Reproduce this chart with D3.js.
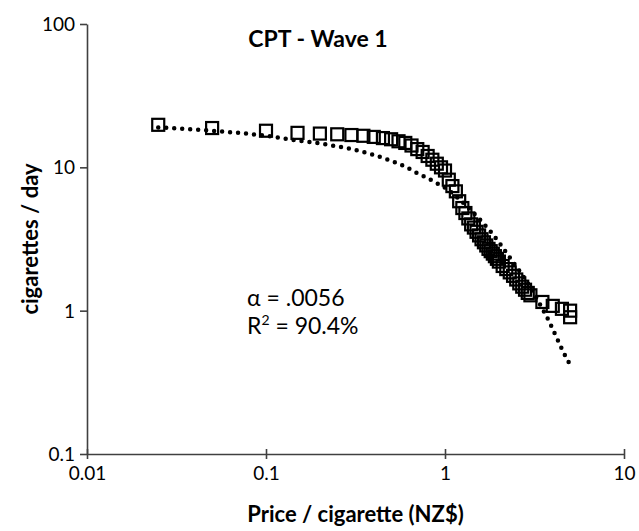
<!DOCTYPE html>
<html>
<head>
<meta charset="utf-8">
<script src="https://cdn.jsdelivr.net/npm/d3@7"></script>
<style>
  body { margin: 0; background: #fff; }
  text { font-family: Lato, "Open Sans", sans-serif; fill: #000; }
  .tick-label { font-size: 19px; }
  .axis-title { font-size: 22px; font-weight: bold; }
</style>
</head>
<body>
<div id="chart"></div>
<script>
// CPT price points (NZ$ per cigarette) and consumption (cigarettes / day)
var prices = [0.025, 0.05, 0.1, 0.15, 0.2, 0.25, 0.3, 0.35, 0.4, 0.45,
    0.5, 0.55, 0.6, 0.65, 0.7, 0.75, 0.8, 0.85, 0.9, 0.95,
    1.0, 1.05, 1.1, 1.15, 1.2, 1.25, 1.3, 1.35, 1.4, 1.45,
    1.5, 1.55, 1.6, 1.65, 1.7, 1.75, 1.8, 1.85, 1.9, 1.95,
    2.0, 2.1, 2.2, 2.3, 2.4, 2.5, 2.6, 2.7, 2.8, 2.9,
    3.0, 3.5, 4.0, 4.5, 5.0, 5.0];
var consumption = [19.8, 18.8, 18.0, 17.4, 17.2, 17.0, 16.8, 16.6, 16.3, 16.0,
    15.7, 15.2, 14.8, 14.2, 13.4, 12.8, 12.0, 11.3, 10.6, 10.0,
    9.5, 8.2, 7.4, 6.8, 5.8, 5.2, 4.8, 4.4, 4.0, 3.8,
    3.55, 3.35, 3.15, 3.0, 2.85, 2.7, 2.6, 2.5, 2.4, 2.3,
    2.2, 2.05, 1.95, 1.85, 1.75, 1.65, 1.55, 1.47, 1.4, 1.33,
    1.28, 1.15, 1.08, 1.03, 1.0, 0.9];

// fitted exponential demand curve
var fitPrices = [0.025, 0.05, 0.1, 0.15, 0.2, 0.25, 0.3, 0.4, 0.5, 0.6,
    0.7, 0.8, 0.9, 1.0, 1.1, 1.2, 1.4, 1.6, 1.8, 2.0,
    2.3, 2.6, 2.9, 3.2, 3.5, 3.8, 4.2, 4.6, 5.0];
var fitValues = [19.0, 18.0, 16.6, 15.4, 14.7, 14.0, 13.4, 12.2, 11.1, 10.1,
    9.1, 8.4, 7.75, 7.2, 6.6, 6.0, 5.0, 4.2, 3.55, 3.0,
    2.35, 1.9, 1.55, 1.26, 1.03, 0.85, 0.65, 0.51, 0.42];

var xTicks = [0.01, 0.1, 1, 10];
var yTicks = [0.1, 1, 10, 100];
var xTickLabels = ["0.01", "0.1", "1", "10"];
var yTickLabels = ["0.1", "1", "10", "100"];

var chartTitle = "CPT - Wave 1";
var alphaText = "\u03B1 = .0056";
var r2Value = " = 90.4%";
var xTitle = "Price / cigarette (NZ$)";
var yTitle = "cigarettes / day";

var canvas_width = 639,
    canvas_height = 531;

var margin = { top: 24, right: 15, bottom: 77, left: 87 };
var width = canvas_width - margin.left - margin.right;
var height = canvas_height - margin.top - margin.bottom;

var svg = d3.select("#chart")
    .append("svg")
    .attr("width", canvas_width)
    .attr("height", canvas_height);

var g = svg.append("g")
    .attr("transform", "translate(" + margin.left + "," + margin.top + ")");

var xScale = d3.scaleLog().domain([0.01, 10]).range([0, width]);
var yScale = d3.scaleLog().domain([0.1, 100]).range([height, 0]);

// Axes
var xAxis = g.append("g")
    .attr("transform", "translate(0," + height + ")")
    .call(d3.axisBottom(xScale)
        .tickValues(xTicks)
        .tickSize(0)
        .tickSizeOuter(0)
        .tickFormat(function (d, i) { return xTickLabels[i]; }));
xAxis.select(".domain").attr("stroke", "#404040").attr("stroke-width", 1.6);
xAxis.selectAll(".tick").append("line")
    .attr("y1", -5).attr("y2", 5)
    .attr("stroke", "#404040").attr("stroke-width", 1.6);
xAxis.selectAll(".tick text")
    .attr("class", "tick-label")
    .attr("dy", 0)
    .attr("y", 26);

var yAxis = g.append("g")
    .call(d3.axisLeft(yScale)
        .tickValues(yTicks)
        .tickSize(7)
        .tickSizeOuter(0)
        .tickFormat(function (d, i) { return yTickLabels[i]; }));
yAxis.select(".domain").attr("stroke", "#404040").attr("stroke-width", 1.6);
yAxis.selectAll(".tick line").attr("stroke", "#404040").attr("stroke-width", 1.6);
yAxis.selectAll(".tick text")
    .attr("class", "tick-label")
    .attr("x", -12)
    .attr("dy", "0.35em");

// Fitted curve (dotted)
var line = d3.line()
    .curve(d3.curveMonotoneX)
    .x(function (d, i) { return xScale(fitPrices[i]); })
    .y(function (d) { return yScale(d); });

g.append("path")
    .datum(fitValues)
    .attr("fill", "none")
    .attr("stroke", "#000")
    .attr("stroke-width", 4.5)
    .attr("stroke-linecap", "round")
    .attr("stroke-dasharray", "0 8")
    .attr("d", line);

// Data squares
var sq = 12;
g.selectAll(".pt")
    .data(consumption)
    .enter()
    .append("rect")
    .attr("class", "pt")
    .attr("x", function (d, i) { return xScale(prices[i]) - sq / 2; })
    .attr("y", function (d) { return yScale(d) - sq / 2; })
    .attr("width", sq)
    .attr("height", sq)
    .attr("fill", "none")
    .attr("stroke", "#000")
    .attr("stroke-width", 2.2);

// Labels
svg.append("text")
    .attr("x", 318)
    .attr("y", 47)
    .attr("text-anchor", "middle")
    .style("font-size", "23px")
    .style("font-weight", "bold")
    .text(chartTitle);

svg.append("text")
    .attr("x", 247)
    .attr("y", 306)
    .style("font-size", "23px")
    .text(alphaText);

var r2 = svg.append("text")
    .attr("x", 247)
    .attr("y", 334)
    .style("font-size", "23px");
r2.append("tspan").text("R");
r2.append("tspan").attr("dy", -9).style("font-size", "14px").text("2");
r2.append("tspan").attr("dy", 9).text(r2Value);

svg.append("text")
    .attr("class", "axis-title")
    .attr("x", margin.left + width / 2)
    .attr("y", 522)
    .attr("text-anchor", "middle")
    .text(xTitle);

svg.append("text")
    .attr("class", "axis-title")
    .attr("transform", "translate(38," + (margin.top + height / 2) + ") rotate(-90)")
    .attr("text-anchor", "middle")
    .text(yTitle);
</script>
</body>
</html>
